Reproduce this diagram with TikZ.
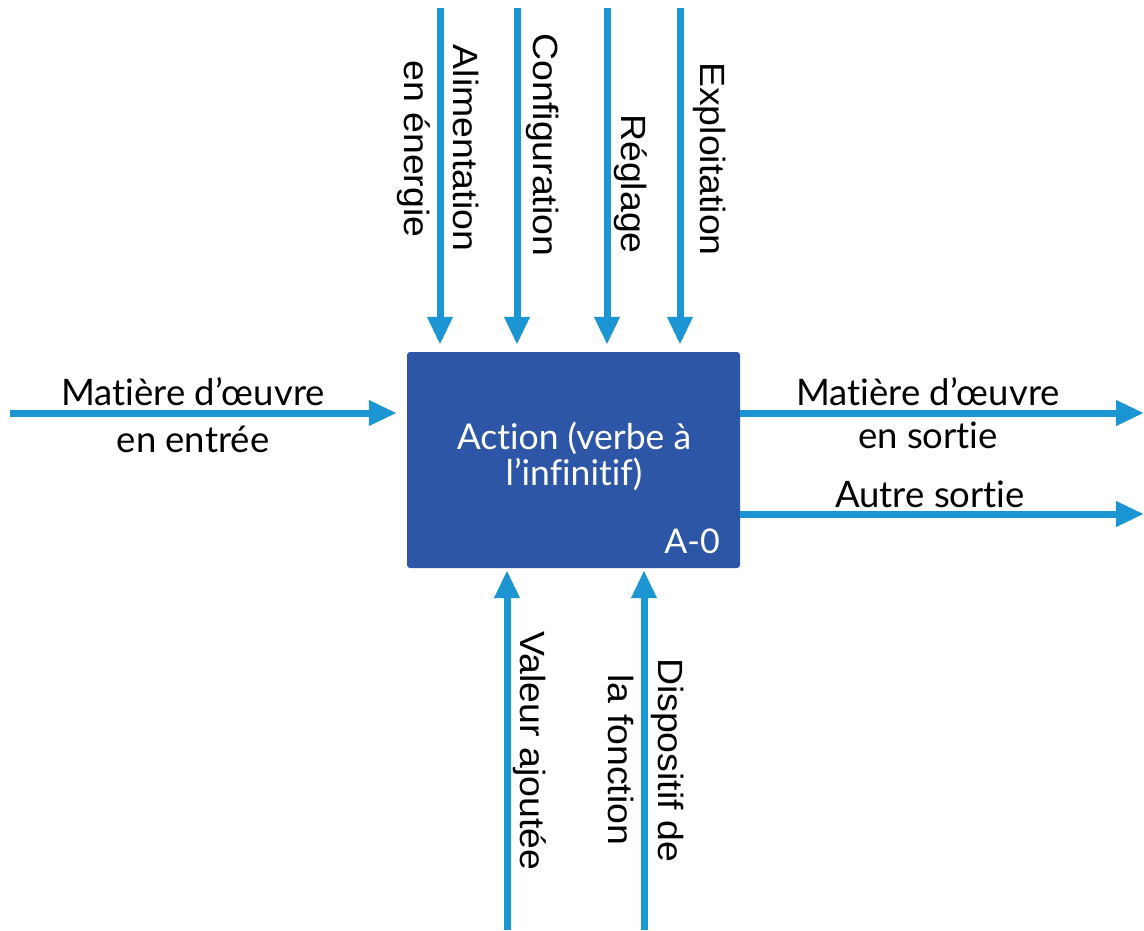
\documentclass[tikz,border=0pt]{standalone}
\usepackage{fontspec}
\setmainfont[Ligatures=NoCommon]{Lato}
\newfontfamily\rotfont[FakeStretch=1.07,Ligatures=NoCommon]{Liberation Sans}
\usetikzlibrary{arrows.meta}
\definecolor{boxblue}{HTML}{2E56A6}
\definecolor{arrowblue}{HTML}{1B96D3}
\begin{document}
\begin{tikzpicture}[x=1pt,y=-1pt,
  arr/.style={draw=arrowblue, line width=7pt, -{Triangle[length=28pt,width=24pt]}},
  hlab/.style={anchor=base, font=\fontsize{36.5}{40}\selectfont, inner sep=0pt},
  vlab/.style={anchor=base, rotate=-90, font=\rotfont\fontsize{35}{40}\selectfont, inner sep=0pt},
  blab/.style={anchor=base, text=white, font=\fontsize{35.5}{40}\selectfont, inner sep=0pt}]
\useasboundingbox (0,0) rectangle (1144,930);
\fill[white] (0,0) rectangle (1144,930);

% main box
\node[fill=boxblue, rounded corners=3pt, minimum width=333pt, minimum height=216pt, inner sep=0pt] (box) at (573.5,460) {};
\node[blab] (act1) at (574,449) {Action (verbe à};
\node[blab] (act2) at (574,485) {l’infinitif)};
\node[blab, anchor=base east, font=\fontsize{34}{38}\selectfont] (a0) at (720,553) {A-0};

% top controls
\coordinate (t1) at (440,8);
\coordinate (t2) at (517,8);
\coordinate (t3) at (607,8);
\coordinate (t4) at (680,8);
\foreach \c in {t1,t2,t3,t4} \draw[arr, shorten >=7pt] (\c) -- (\c |- box.north);

% left input
\coordinate (i1) at (10,413);
\draw[arr, shorten >=10pt] (i1) -- (i1 -| box.west);

% right outputs
\coordinate (o1) at (1144,413);
\coordinate (o2) at (1144,514);
\draw[arr] (o1 -| box.east) -- (o1);
\draw[arr] (o2 -| box.east) -- (o2);

% bottom mechanisms
\coordinate (b1) at (507,930);
\coordinate (b2) at (644,930);
\draw[arr, shorten >=2pt] (b1) -- (b1 |- box.south);
\draw[arr, shorten >=2pt] (b2) -- (b2 |- box.south);

% horizontal labels
\node[hlab] (li1) at (193,405) {Matière d’œuvre};
\node[hlab] (li2) at (193,452) {en entrée};
\node[hlab] (lo1) at (928,405) {Matière d’œuvre};
\node[hlab] (lo2) at (928,448) {en sortie};
\node[hlab] (lo3) at (930,507) {Autre sortie};

% vertical labels
\node[vlab] (lt1a) at (453,148) {Alimentation};
\node[vlab] (lt1b) at (404,149) {en énergie};
\node[vlab] (lt2) at (533,145) {Configuration};
\node[vlab] (lt3) at (621,184) {Réglage};
\node[vlab] (lt4) at (700,159) {Exploitation};
\node[vlab] (lb1) at (520,751) {Valeur ajoutée};
\node[vlab] (lb2a) at (658,760) {Dispositif de};
\node[vlab] (lb2b) at (608,760) {la fonction};
\end{tikzpicture}
\end{document}
